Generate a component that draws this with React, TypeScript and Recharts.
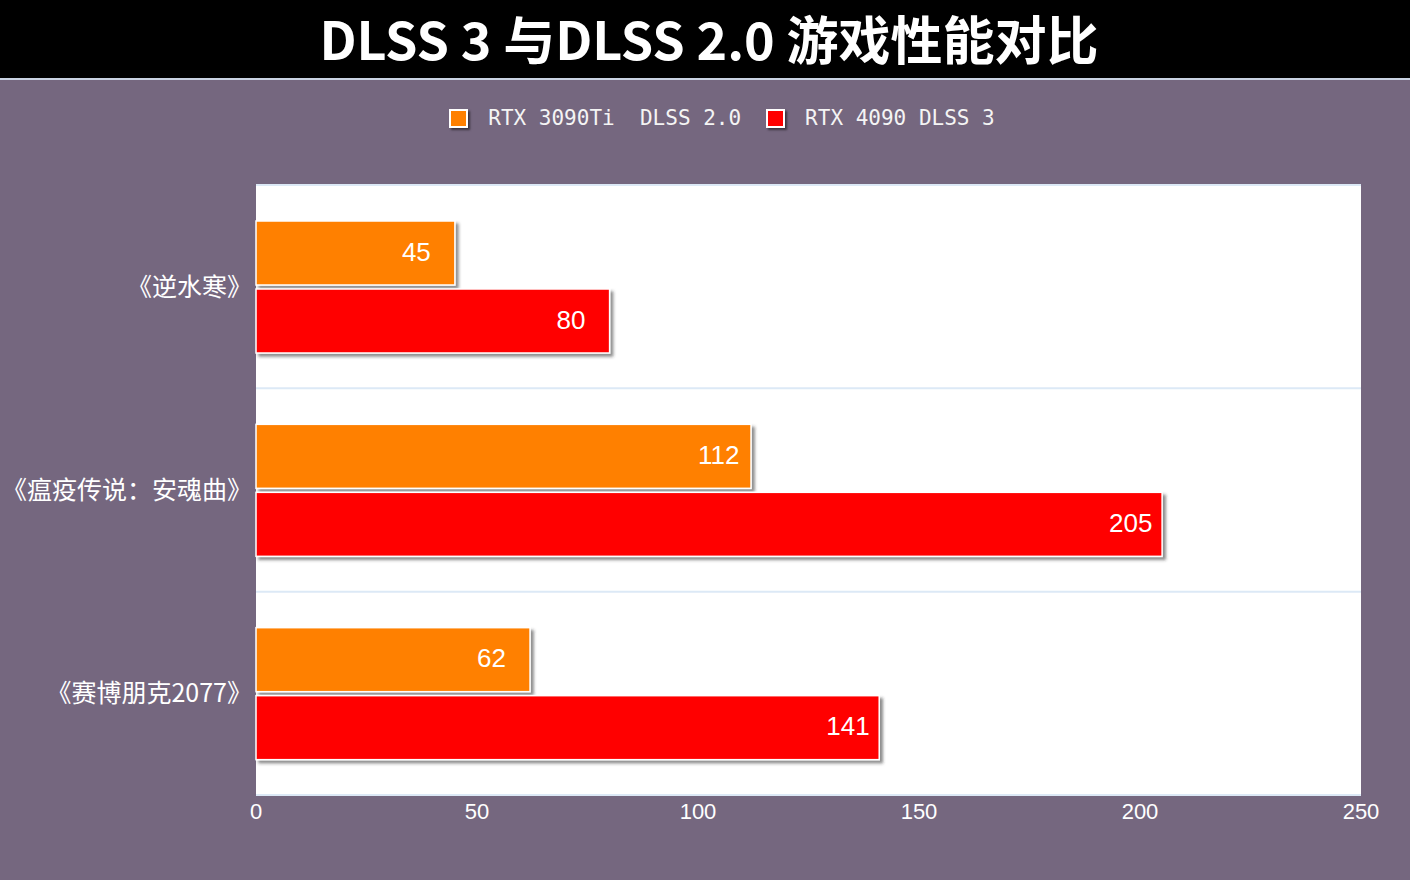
import { BarChart, Bar, XAxis, YAxis, CartesianGrid, LabelList } from 'recharts';

const games = ['《逆水寒》', '《瘟疫传说：安魂曲》', '《赛博朋克2077》'];
const dlss2 = [45, 112, 62];
const dlss3 = [80, 205, 141];
const seriesNames = ['RTX 3090Ti  DLSS 2.0', 'RTX 4090 DLSS 3'];
const xTicks = [0, 50, 100, 150, 200, 250];

const COLORS = ['#FF8000', '#FF0000'];
const BG = '#75677F';
const GRID = '#dce9f6';

const chartData = games.map((name, i) => ({ name, dlss2: dlss2[i], dlss3: dlss3[i] }));

const ShadowBar = (props: any) => {
  const { x, y, width, height, fill } = props;
  if (width == null || width <= 0) return null;
  return (
    <rect
      x={x}
      y={y}
      width={width}
      height={height}
      fill={fill}
      stroke="#ffffff"
      strokeWidth={1.5}
      filter="url(#barShadow)"
    />
  );
};

const ValueLabel = (props: any) => {
  const { x, y, width, height, value } = props;
  return (
    <text
      x={x + width - 53}
      y={y + height / 2}
      dy="0.3em"
      fill="#ffffff"
      fontSize={26}
      fontFamily="'Liberation Sans', Arial, sans-serif"
      textAnchor="start"
    >
      {value}
    </text>
  );
};

// lines on the category boundaries (equal bands), plus top and bottom edges
const gridLines = ({ offset }: any) => {
  const n = games.length;
  const top = offset?.top ?? 103;
  const h = offset?.height ?? 610;
  return Array.from({ length: n + 1 }, (_, i) => top + (i * h) / n);
};

const App = () => {
  return (
    <div
      style={{
        position: 'absolute',
        left: 0,
        top: 0,
        width: 1410,
        height: 880,
        background: BG,
        overflow: 'hidden',
      }}
    >
      <svg width={0} height={0} style={{ position: 'absolute' }}>
        <defs>
          <filter id="barShadow" x="-10%" y="-20%" width="130%" height="150%">
            <feDropShadow dx={3} dy={3} stdDeviation={1.5} floodColor="#333" floodOpacity={0.55} />
          </filter>
        </defs>
      </svg>
      <div
        style={{
          height: 80,
          background: '#000',
          color: '#fff',
          textAlign: 'center',
          fontFamily: "'Noto Sans CJK SC', sans-serif",
          fontWeight: 700,
          fontSize: 52,
          lineHeight: '76px',
          paddingLeft: 8,
          boxSizing: 'border-box',
          borderBottom: '2px solid #c9d2e2',
          overflow: 'hidden',
        }}
      >
        DLSS 3 与DLSS 2.0 游戏性能对比
      </div>

      <div
        style={{
          position: 'absolute',
          top: 106,
          left: 23,
          width: 1410,
          display: 'flex',
          justifyContent: 'center',
          alignItems: 'center',
          fontFamily: "'DejaVu Sans Mono', monospace",
          fontSize: 21,
          color: '#f4f4f4',
          whiteSpace: 'pre',
        }}
      >
        {seriesNames.map((s, i) => (
          <div key={s} style={{ display: 'flex', alignItems: 'center', marginLeft: i === 0 ? -12 : 25 }}>
            <span
              style={{
                display: 'inline-block',
                width: 15,
                height: 15,
                background: COLORS[i],
                border: '2px solid #fff',
                boxShadow: '2px 2px 2px rgba(0,0,0,0.5)',
                marginRight: 20,
              }}
            />
            <span>{s}</span>
          </div>
        ))}
      </div>

      <div style={{ position: 'absolute', top: 82, left: 0 }}>
        <BarChart
          width={1410}
          height={798}
          data={chartData}
          layout="vertical"
          margin={{ top: 103, right: 49, bottom: 45, left: 0 }}
          barSize={64}
          barGap={4}
        >
          <CartesianGrid
            fill="#ffffff"
            stroke={GRID}
            strokeWidth={2}
            vertical={false}
            horizontalCoordinatesGenerator={gridLines}
          />
          <XAxis
            type="number"
            domain={[0, 250]}
            ticks={xTicks}
            height={40}
            axisLine={{ stroke: GRID, strokeWidth: 2 }}
            tickLine={false}
            tickSize={0}
            tickMargin={8}
            tick={{ fill: '#ffffff', fontSize: 22, fontFamily: "'Liberation Sans', Arial, sans-serif" }}
          />
          <YAxis
            type="category"
            dataKey="name"
            width={256}
            axisLine={false}
            tickLine={false}
            tickSize={0}
            tickMargin={4}
            tick={{ fill: '#ffffff', fontSize: 25, fontFamily: "'Noto Sans CJK SC', sans-serif" }}
          />
          <Bar dataKey="dlss2" fill={COLORS[0]} shape={ShadowBar} isAnimationActive={false}>
            <LabelList dataKey="dlss2" content={ValueLabel} />
          </Bar>
          <Bar dataKey="dlss3" fill={COLORS[1]} shape={ShadowBar} isAnimationActive={false}>
            <LabelList dataKey="dlss3" content={ValueLabel} />
          </Bar>
        </BarChart>
      </div>
    </div>
  );
};

export default App;
